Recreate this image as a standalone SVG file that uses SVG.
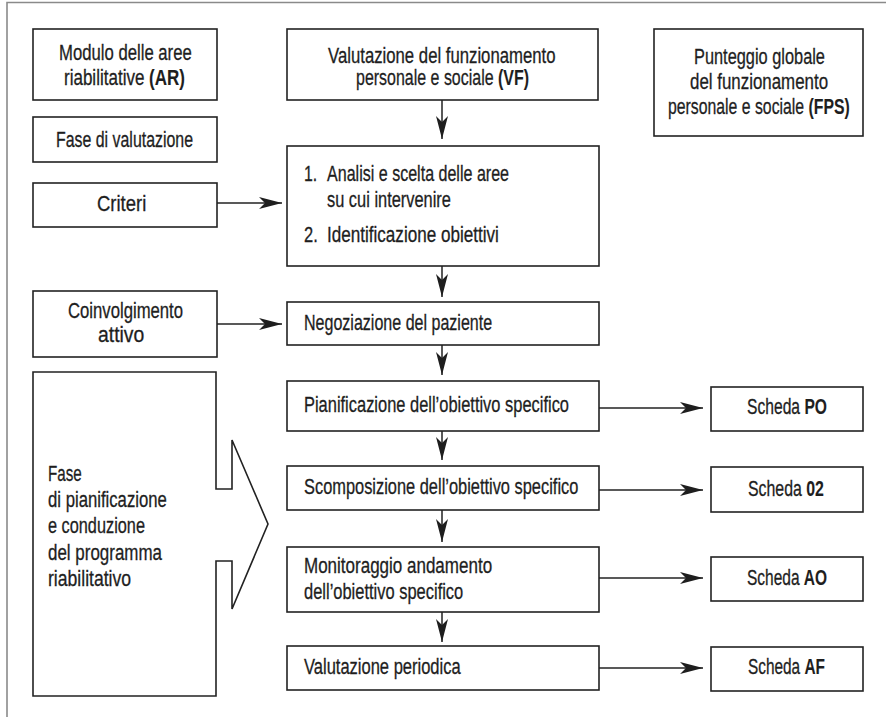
<svg xmlns="http://www.w3.org/2000/svg" width="886" height="717" viewBox="0 0 886 717">
<style>
  .frame { fill: none; stroke: #8a8a8a; stroke-width: 1.6; }
  .box { fill: #ffffff; stroke: #222222; stroke-width: 1.6; }
  .t { font-family: "Liberation Sans", Arial, sans-serif; font-size: 22px; fill: #1e1e1e; stroke: #1e1e1e; stroke-width: 0.3; }
  .b { font-weight: bold; stroke-width: 0.1; }
  .con { fill: none; stroke: #222222; stroke-width: 1.5; marker-end: url(#arr); }
</style>
<defs>
  <marker id="arr" viewBox="0 0 23 12" refX="23" refY="6" markerWidth="23" markerHeight="12" markerUnits="userSpaceOnUse" orient="auto">
    <path d="M0,0 L23,6 L0,12 L6,6 Z" fill="#1e1e1e"/>
  </marker>
</defs>
<rect x="0" y="0" width="886" height="717" fill="#ffffff"/>
<path class="frame" d="M7,717 V2.5 H886"/>

<g id="node-ar">
  <rect class="box" x="33" y="29" width="184" height="71"/>
  <text class="t" transform="translate(59,60) scale(0.76,1)">Modulo delle aree</text>
  <text class="t" transform="translate(64,85) scale(0.774,1)">riabilitative <tspan class="b">(AR)</tspan></text>
</g>
<g id="node-fase-valutazione">
  <rect class="box" x="33" y="117" width="184" height="45"/>
  <text class="t" transform="translate(56,147) scale(0.723,1)">Fase di valutazione</text>
</g>
<g id="node-criteri">
  <rect class="box" x="33" y="183" width="184" height="44"/>
  <text class="t" transform="translate(97,211) scale(0.84,1)">Criteri</text>
</g>
<g id="node-coinvolgimento">
  <rect class="box" x="33" y="291" width="184" height="66"/>
  <text class="t" transform="translate(68,318) scale(0.759,1)">Coinvolgimento</text>
  <text class="t" transform="translate(98,342) scale(0.88,1)">attivo</text>
</g>
<g id="node-fase-pianificazione">
  <path class="box" d="M33,372 H216 V489 H232 V440 L268,524 L232,609 V561 H216 V696 H33 Z"/>
  <text class="t" transform="translate(48,481) scale(0.69,1)">Fase</text>
  <text class="t" transform="translate(48,507) scale(0.76,1)">di pianificazione</text>
  <text class="t" transform="translate(48,533) scale(0.741,1)">e conduzione</text>
  <text class="t" transform="translate(48,560) scale(0.771,1)">del programma</text>
  <text class="t" transform="translate(48,586) scale(0.8,1)">riabilitativo</text>
</g>

<g id="node-vf">
  <rect class="box" x="287" y="29" width="311" height="71"/>
  <text class="t" transform="translate(328,63) scale(0.761,1)">Valutazione del funzionamento</text>
  <text class="t" transform="translate(356,85) scale(0.726,1)">personale e sociale <tspan class="b">(VF)</tspan></text>
</g>
<g id="node-fps">
  <rect class="box" x="654" y="29" width="209" height="107"/>
  <text class="t" transform="translate(694,64) scale(0.744,1)">Punteggio globale</text>
  <text class="t" transform="translate(690,89) scale(0.768,1)">del funzionamento</text>
  <text class="t" transform="translate(668,114) scale(0.719,1)">personale e sociale <tspan class="b">(FPS)</tspan></text>
</g>
<g id="node-analisi">
  <rect class="box" x="287" y="146" width="312" height="120"/>
  <text class="t" transform="translate(304,181) scale(0.72,1)">1.</text>
  <text class="t" transform="translate(327,181) scale(0.73,1)">Analisi e scelta delle aree</text>
  <text class="t" transform="translate(327,207) scale(0.746,1)">su cui intervenire</text>
  <text class="t" transform="translate(304,242) scale(0.75,1)">2.</text>
  <text class="t" transform="translate(327,242) scale(0.777,1)">Identificazione obiettivi</text>
</g>
<g id="node-negoziazione">
  <rect class="box" x="287" y="302" width="312" height="43"/>
  <text class="t" transform="translate(304,330) scale(0.729,1)">Negoziazione del paziente</text>
</g>
<g id="node-pianificazione">
  <rect class="box" x="287" y="381" width="312" height="50"/>
  <text class="t" transform="translate(304,412) scale(0.748,1)">Pianificazione dell’obiettivo specifico</text>
</g>
<g id="node-scomposizione">
  <rect class="box" x="287" y="466" width="312" height="44"/>
  <text class="t" transform="translate(304,494) scale(0.746,1)">Scomposizione dell’obiettivo specifico</text>
</g>
<g id="node-monitoraggio">
  <rect class="box" x="287" y="547" width="312" height="65"/>
  <text class="t" transform="translate(304,573) scale(0.773,1)">Monitoraggio andamento</text>
  <text class="t" transform="translate(304,599) scale(0.749,1)">dell’obiettivo specifico</text>
</g>
<g id="node-valutazione-periodica">
  <rect class="box" x="287" y="646" width="312" height="44"/>
  <text class="t" transform="translate(304,674) scale(0.751,1)">Valutazione periodica</text>
</g>

<g id="node-scheda-po">
  <rect class="box" x="711" y="387" width="152" height="44"/>
  <text class="t" transform="translate(747,414) scale(0.711,1)">Scheda <tspan class="b">PO</tspan></text>
</g>
<g id="node-scheda-02">
  <rect class="box" x="711" y="467" width="152" height="45"/>
  <text class="t" transform="translate(748,496) scale(0.722,1)">Scheda <tspan class="b">02</tspan></text>
</g>
<g id="node-scheda-ao">
  <rect class="box" x="711" y="557" width="152" height="44"/>
  <text class="t" transform="translate(747,585) scale(0.704,1)">Scheda <tspan class="b">AO</tspan></text>
</g>
<g id="node-scheda-af">
  <rect class="box" x="711" y="647" width="152" height="44"/>
  <text class="t" transform="translate(748,674) scale(0.7,1)">Scheda <tspan class="b">AF</tspan></text>
</g>

<g id="connectors">
  <line class="con" x1="442" y1="100" x2="442" y2="139"/>
  <line class="con" x1="442" y1="266" x2="442" y2="297"/>
  <line class="con" x1="442" y1="345" x2="442" y2="375"/>
  <line class="con" x1="442" y1="431" x2="442" y2="460"/>
  <line class="con" x1="442" y1="510" x2="442" y2="542"/>
  <line class="con" x1="442" y1="612" x2="442" y2="642"/>
  <line class="con" x1="217" y1="203" x2="282" y2="203"/>
  <line class="con" x1="217" y1="324" x2="282" y2="324"/>
  <line class="con" x1="599" y1="408" x2="703" y2="408"/>
  <line class="con" x1="599" y1="490" x2="703" y2="490"/>
  <line class="con" x1="599" y1="578" x2="703" y2="578"/>
  <line class="con" x1="599" y1="668" x2="703" y2="668"/>
</g>
</svg>
